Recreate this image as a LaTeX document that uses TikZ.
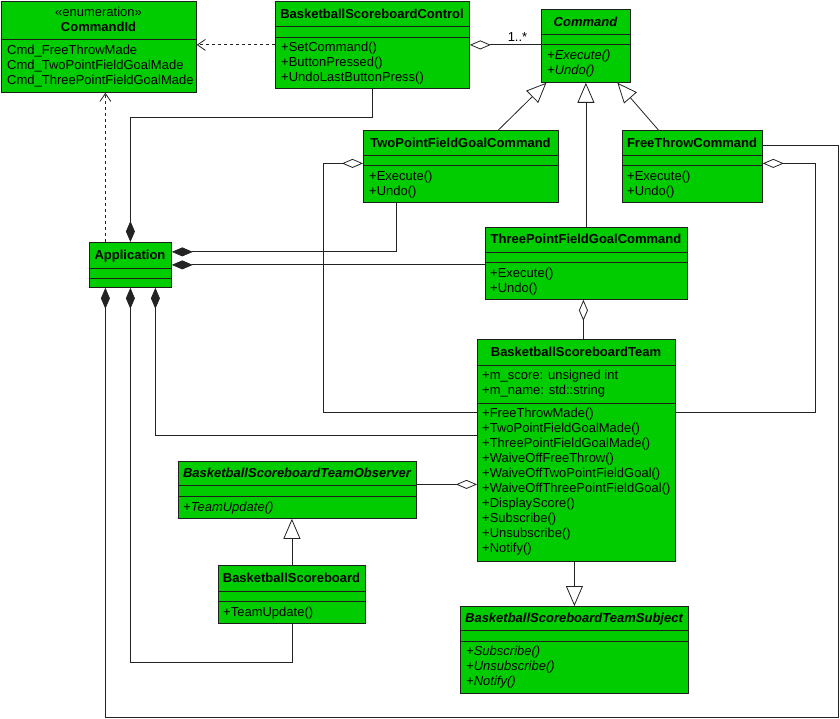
\documentclass[tikz,border=0pt]{standalone}
\usepackage{fontspec}
\setmainfont{Liberation Sans}
\usetikzlibrary{arrows.meta, positioning}
\definecolor{Cgreen}{RGB}{0, 204, 0}
\definecolor{Cline}{RGB}{30, 30, 30}
\definecolor{Clink}{RGB}{35, 35, 35}
\newcommand{\clsfont}{\fontsize{13}{15}\selectfont}
\tikzset{
    clsbox/.style={
        rectangle, draw=Cline, fill=Cgreen, line width=0.8pt,
        inner sep=0pt, anchor=north west
    },
    clstitle/.style={font=\clsfont\bfseries, anchor=base, inner sep=0pt},
    clsabstract/.style={clstitle, font=\clsfont\bfseries\itshape},
    clsmember/.style={font=\clsfont, anchor=base west, inner sep=0pt},
    link/.style={line width=0.8pt, draw=Clink},
    aggr/.style={link, {Diamond[open, fill=white, length=21pt, width=9pt]}-},
    comp/.style={link, {Diamond[length=21pt, width=9pt]}-},
    inher/.style={link, -{Triangle[open, fill=white, length=20pt, width=17pt]}},
    depend/.style={link, dash pattern=on 3pt off 3pt, -{Straight Barb[length=8pt, width=11pt]}},
}
% box with two compartment lines: name, left, top, right, bottom, sep1, sep2
\newcommand{\umlclass}[7]{%
    \node[clsbox, minimum width={(#4-#2)*1pt}, minimum height={(#5-#3)*1pt}] (#1) at (#2,#3) {};
    \draw[Cline, line width=0.8pt] (#2,#6) -- (#4,#6) (#2,#7) -- (#4,#7);
}
% one text line per item: [style], name, left, first baseline, items
\newcommand{\members}[5][]{%
    \foreach \m [count=\i from 0] in {#5}
        \node[clsmember, #1] (#2-\i) at (#3, {#4+15*\i}) {\m};
}

\begin{document}
\begin{tikzpicture}[x=1pt, y=-1pt]
    \useasboundingbox (0,0) rectangle (840,719);

    % ── classes ─────────────────────────────────────────
    \umlclass{cmdid}{1}{1}{196}{92}{39}{39}
    \node[font=\clsfont, anchor=base, inner sep=0pt] (cmdid-stereo) at (98.5,16.5) {«enumeration»};
    \node[clstitle] (cmdid-title) at (98.5,31.5) {CommandId};
    \members{cmdid-m}{7}{54.5}{Cmd\_FreeThrowMade, Cmd\_TwoPointFieldGoalMade, Cmd\_ThreePointFieldGoalMade}

    \umlclass{ctrl}{275}{1}{469}{88}{26}{37}
    \node[clstitle] (ctrl-title) at (372,18.5) {BasketballScoreboardControl};
    \members{ctrl-op}{281}{51.5}{+SetCommand(), +ButtonPressed(), +UndoLastButtonPress()}

    \umlclass{cmd}{541}{9}{630}{82}{34}{44}
    \node[clsabstract] (cmd-title) at (585.5,26.5) {Command};
    \members[font=\clsfont\itshape]{cmd-op}{547}{59.5}{+Execute(), +Undo()}

    \umlclass{twopt}{363}{130}{558}{202}{155}{165}
    \node[clstitle] (twopt-title) at (460.5,147.5) {TwoPointFieldGoalCommand};
    \members{twopt-op}{369}{180.5}{+Execute(), +Undo()}

    \umlclass{freethrow}{622}{130}{762}{202}{155}{165}
    \node[clstitle] (freethrow-title) at (692,147.5) {FreeThrowCommand};
    \members{freethrow-op}{627}{180.5}{+Execute(), +Undo()}

    \umlclass{app}{89}{242}{171}{287}{268}{278}
    \node[clstitle] (app-title) at (130,259.5) {Application};

    \umlclass{threept}{485}{227}{687}{299}{252}{262}
    \node[clstitle] (threept-title) at (586,243.5) {ThreePointFieldGoalCommand};
    \members{threept-op}{490}{277.5}{+Execute(), +Undo()}

    \umlclass{team}{477}{339}{675}{561}{365}{403}
    \node[clstitle] (team-title) at (576,356.5) {BasketballScoreboardTeam};
    \members{team-attr}{482}{379.5}{+m\_score: unsigned int, +m\_name: std::string}
    \members{team-op}{482}{417.5}{+FreeThrowMade(), +TwoPointFieldGoalMade(), +ThreePointFieldGoalMade(),
        +WaiveOffFreeThrow(), +WaiveOffTwoPointFieldGoal(), +WaiveOffThreePointFieldGoal(),
        +DisplayScore(), +Subscribe(), +Unsubscribe(), +Notify()}

    \umlclass{observer}{178}{461}{416}{518}{485}{496}
    \node[clsabstract] (observer-title) at (297,477.5) {BasketballScoreboardTeamObserver};
    \members[font=\clsfont\itshape]{observer-op}{183}{511.5}{+TeamUpdate()}

    \umlclass{board}{218}{565}{365}{623}{591}{601}
    \node[clstitle] (board-title) at (291.5,582.5) {BasketballScoreboard};
    \members{board-op}{223}{616.5}{+TeamUpdate()}

    \umlclass{subject}{460}{606}{688}{693}{630}{641}
    \node[clsabstract] (subject-title) at (574,622.5) {BasketballScoreboardTeamSubject};
    \members[font=\clsfont\itshape]{subject-op}{466}{655.5}{+Subscribe(), +Unsubscribe(), +Notify()}

    % ── connectors ──────────────────────────────────────
    \coordinate (app-dep) at ([xshift=-25pt]app.north);
    \coordinate (three-agg) at ([xshift=-3pt]threept.south);
    \coordinate (team-obs) at ([yshift=-34pt]team.west);

    \draw [depend] (ctrl.west) -- (ctrl.west -| cmdid.east);
    \draw [depend] (app-dep) -- (app-dep |- cmdid.south);
    \draw [aggr] (ctrl.east) -- node[pos=0.67, above=3pt, font=\clsfont, inner sep=0pt] (mult) {1..*} (ctrl.east -| cmd.west);

    \draw [inher] ([xshift=37.5pt]twopt.north) -- ([xshift=-39.5pt]cmd.south);
    \draw [inher] (threept.north -| cmd.south) -- (cmd.south);
    \draw [inher] ([xshift=-34pt]freethrow.north) -- ([xshift=31.5pt]cmd.south);

    \draw [aggr] ([yshift=3pt]twopt.west) -- ++(-40,0) |- ([yshift=38pt]team.west);
    \draw [aggr] ([yshift=3pt]freethrow.east) -- ++(53,0) |- ([yshift=38pt]team.east);
    \draw [aggr] (three-agg) -- (three-agg |- team.north);
    \draw [aggr] (team-obs) -- (team-obs -| observer.east);

    \draw [comp] (app.north) -- ++(0,-125) -| (ctrl.south);
    \draw [comp] ([yshift=13pt]app.east) -| ([xshift=-65pt]twopt.south);
    \draw [comp] (app.east) -- (app.east -| threept.west);
    \draw [comp] ([xshift=-25pt]app.south) -- ++(0,430) -- ++(733,0) |- ([yshift=21pt]freethrow.east);
    \draw [comp] (app.south) -- ++(0,375) -| (board.south);
    \draw [comp] ([xshift=25pt]app.south) |- ([yshift=15pt]team.west);

    \draw [inher] (board.north) -- (board.north |- observer.south);
    \draw [inher] (subject.north |- team.south) -- (subject.north);

\end{tikzpicture}
\end{document}
